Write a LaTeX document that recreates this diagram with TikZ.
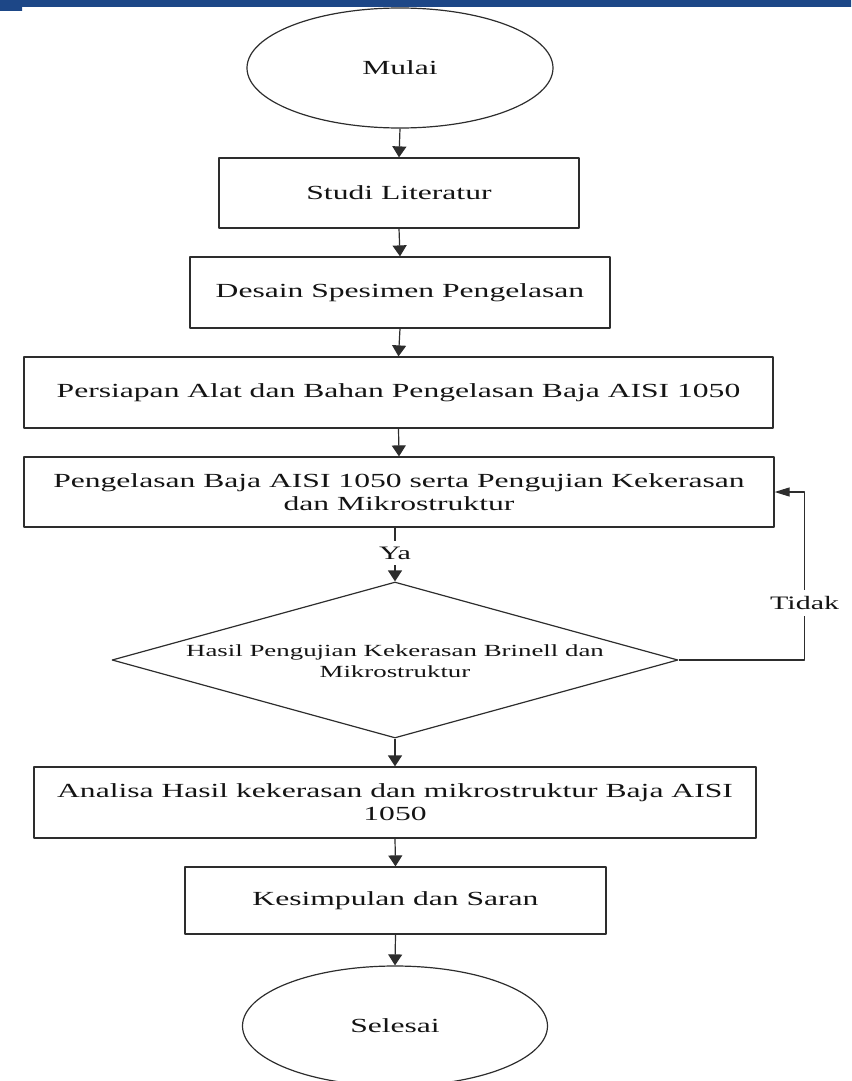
\documentclass[tikz,border=0pt]{standalone}
\usepackage{fontspec}
\setmainfont{Liberation Serif}[FakeStretch=1.58]
\usetikzlibrary{shapes.geometric,arrows.meta}
\definecolor{biru}{RGB}{29,71,135}
\definecolor{garis}{RGB}{45,45,45}
\definecolor{teks}{RGB}{20,20,20}
\begin{document}
\begin{tikzpicture}[x=1pt, y=-1pt, line join=round,
	kotak/.style={draw=garis, line width=1.2pt, rectangle, inner sep=0pt, align=center, text=teks, font=\fontsize{20}{23}\selectfont},
	elips/.style={draw=garis, line width=1.2pt, ellipse, minimum width=306pt, minimum height=120pt, inner sep=0pt, text=teks, font=\fontsize{20}{23}\selectfont},
	keputusan/.style={draw=garis, line width=1.2pt, diamond, minimum width=566pt, minimum height=156pt, inner sep=0pt},
	panah/.style={-{Triangle[width=14pt,length=11pt]}, draw=garis, line width=1.2pt},
	panahkiri/.style={-{Triangle[width=9pt,length=15pt]}, draw=garis, line width=1.2pt},
	ket/.style={fill=white, inner xsep=2pt, inner ysep=6pt, text=teks, font=\fontsize{19}{22}\selectfont}]
	\useasboundingbox (0,0) rectangle (851,1081);
	\fill[biru] (0,0) rectangle (851,7) (0,7) rectangle (22,11); % pita atas
	
	\node[elips] (mulai) at (400,68) {Mulai};
	\node[kotak, minimum width=360pt, minimum height=70pt] (studi) at (399,193) {Studi Literatur};
	\node[kotak, minimum width=420pt, minimum height=71pt] (desain) at (400,292.5) {Desain Spesimen Pengelasan};
	\node[kotak, minimum width=749pt, minimum height=71pt] (persiapan) at (398.5,392.5) {Persiapan Alat dan Bahan Pengelasan Baja AISI 1050};
	\node[kotak, minimum width=750pt, minimum height=70pt] (pengelasan) at (399,492) {Pengelasan Baja AISI 1050 serta Pengujian Kekerasan\\dan Mikrostruktur};
	\node[keputusan] (cek) at (395,660) {};
	\node[align=center, text=teks, font=\fontsize{17}{21}\selectfont] (cekteks) at (395,661) {Hasil Pengujian Kekerasan Brinell dan\\Mikrostruktur};
	\node[kotak, minimum width=722pt, minimum height=71pt] (analisa) at (395,802.5) {Analisa Hasil kekerasan dan mikrostruktur Baja AISI\\1050};
	\node[kotak, minimum width=421pt, minimum height=67pt] (kesimpulan) at (395.5,900.5) {Kesimpulan dan Saran};
	\node[elips, minimum width=305pt] (selesai) at (395,1026) {Selesai};
	
	\draw[panah] (mulai.south) -- (studi.north);
	\draw[panah] (studi.south) -- (desain.north);
	\draw[panah] (desain.south) -- (persiapan.north);
	\draw[panah] (persiapan.south) -- (pengelasan.north);
	\draw[panah] (pengelasan.south -| cek.north) -- (cek.north) node[ket, pos=0.47] (ya) {Ya};
	\draw[panahkiri] (cek.east) -- ++(126,0) |- (pengelasan.east) node[ket, pos=0.17] (tidak) {Tidak};
	\draw[panah] (cek.south) -- (analisa.north);
	\draw[panah] (analisa.south) -- (kesimpulan.north);
	\draw[panah] (kesimpulan.south) -- (selesai.north);
\end{tikzpicture}
\end{document}
